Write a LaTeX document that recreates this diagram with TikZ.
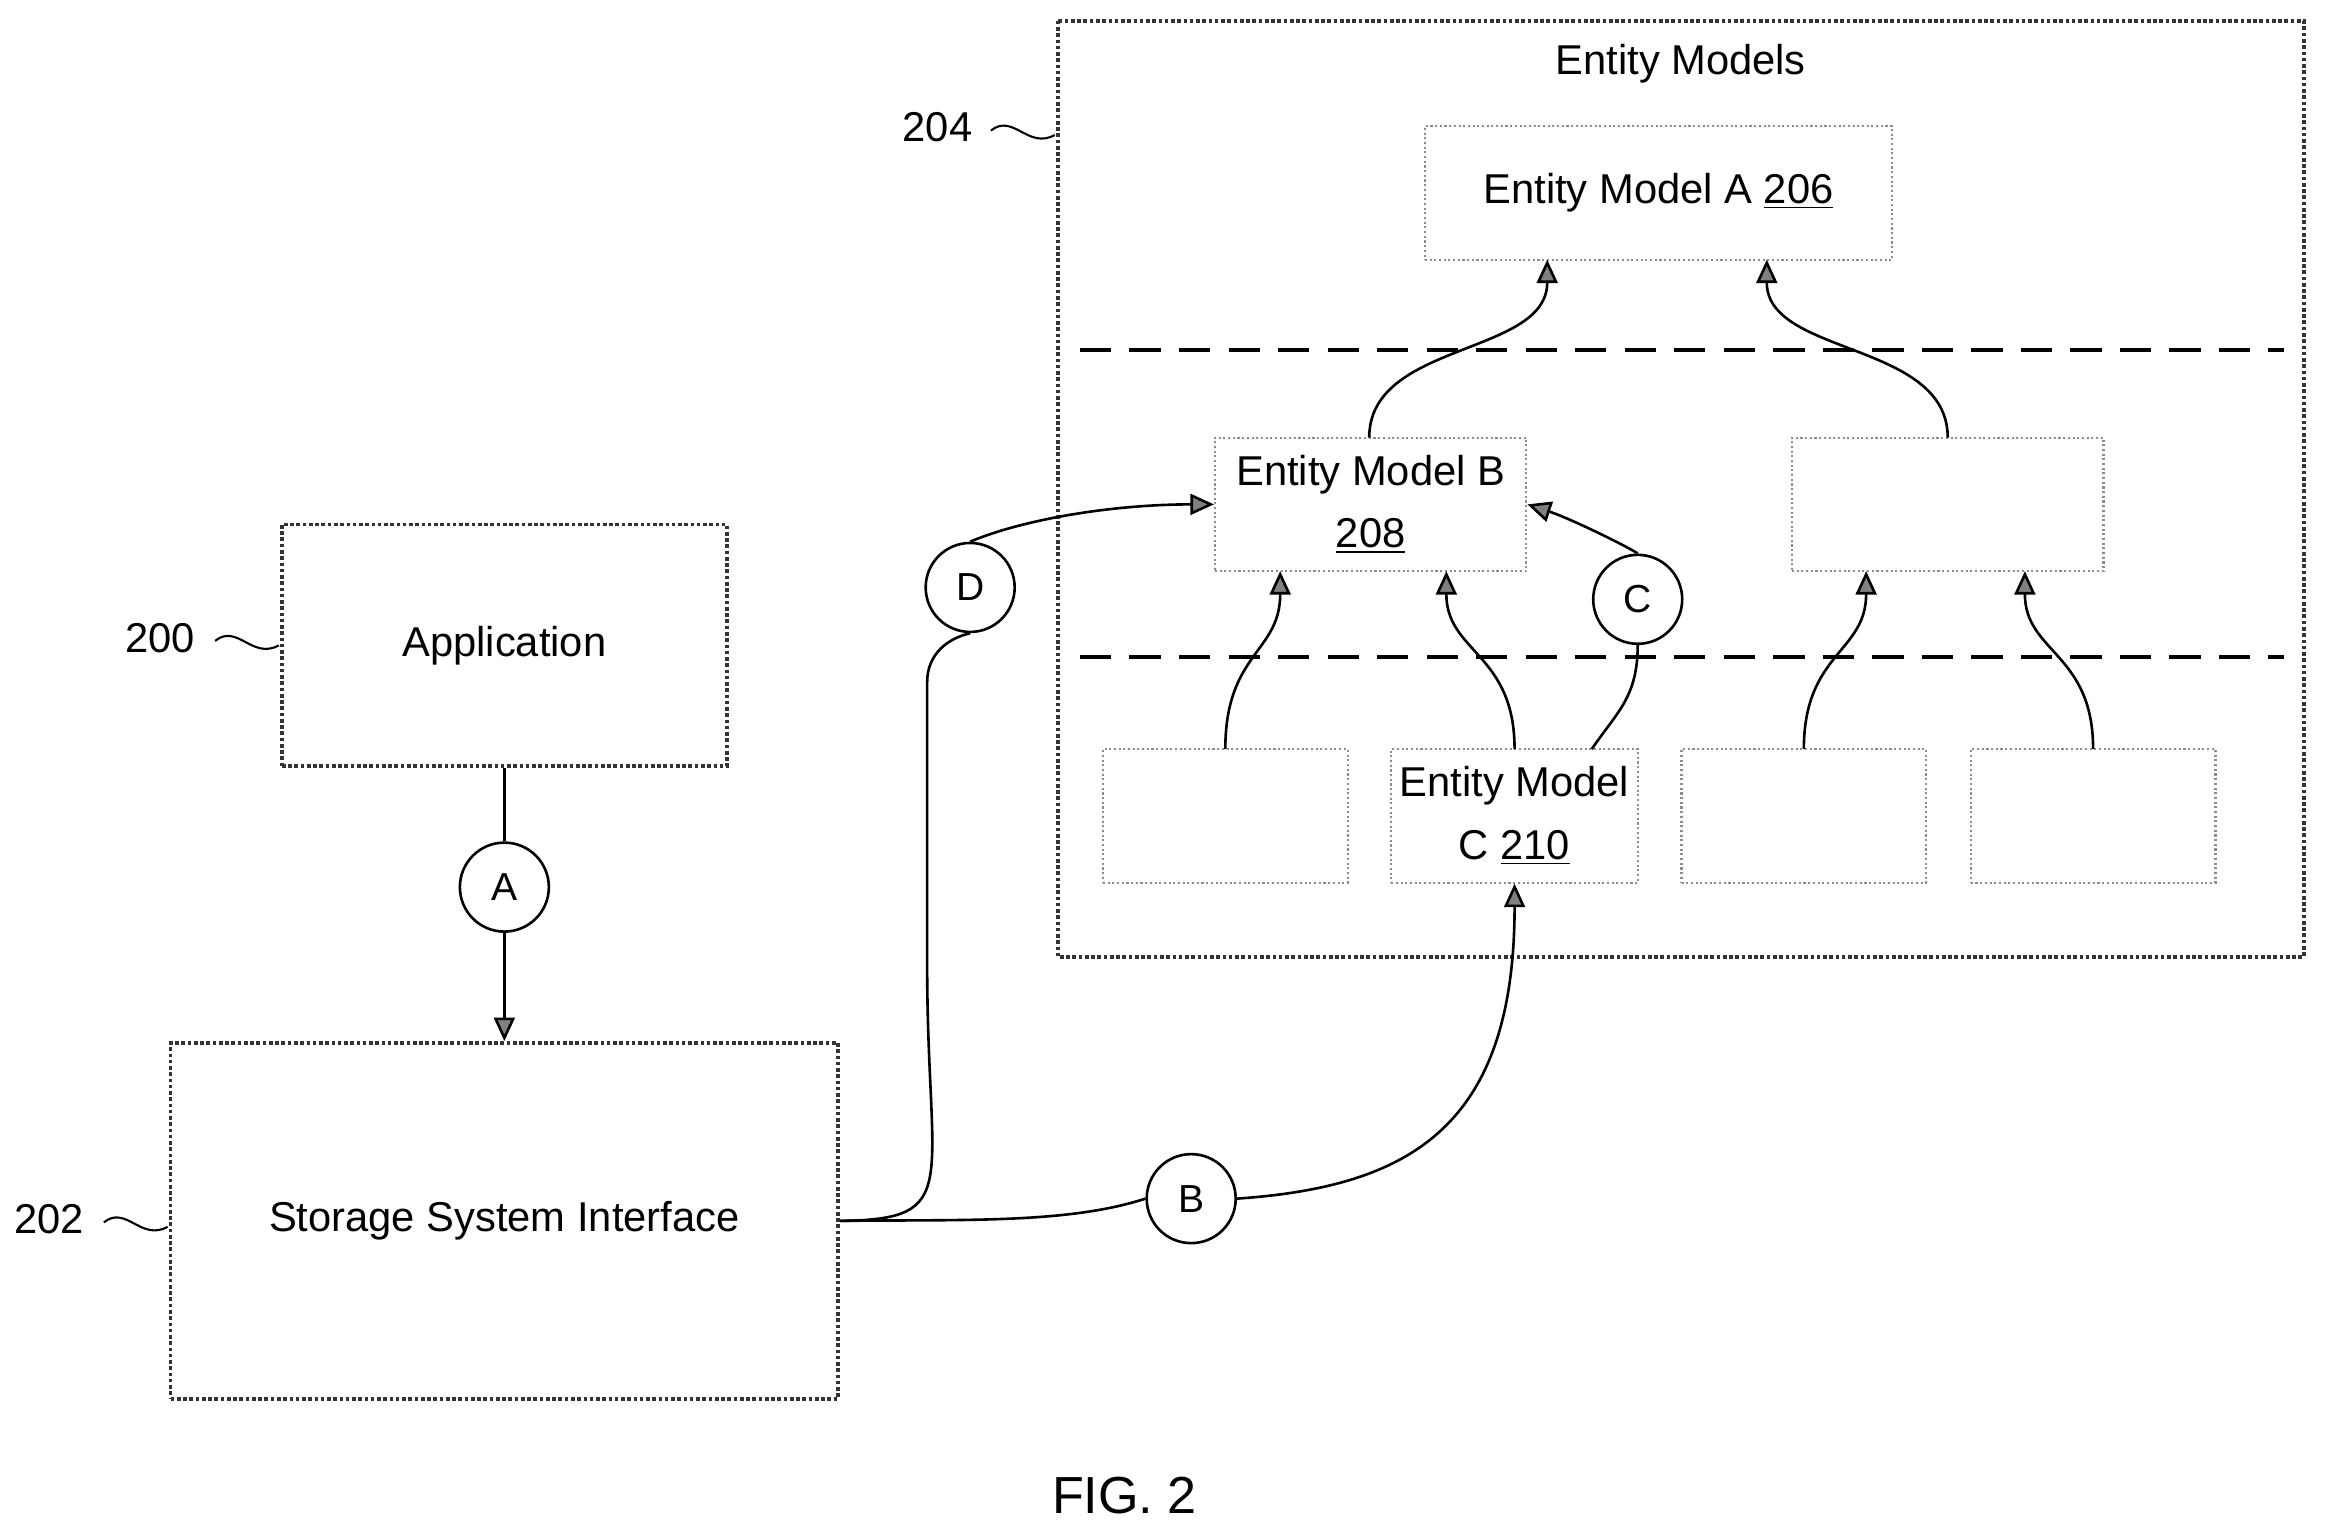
\documentclass[tikz,border=0pt]{standalone}
\usepackage{fontspec}
\setmainfont{Liberation Sans}
\usetikzlibrary{arrows.meta}
\begin{document}
\begin{tikzpicture}[x=0.02cm,y=-0.02cm,
 box/.style={draw=black!80,line width=1.4pt,densely dotted},
 ibox/.style={draw=black!45,line width=0.8pt,densely dotted},
 circ/.style={circle,draw=black,line width=1pt,minimum size=1.2cm,inner sep=0pt,font=\fontsize{15}{17}\selectfont,fill=white},
 txt/.style={font=\fontsize{16}{20}\selectfont,align=center},
 arr/.style={line width=1pt,-{Triangle[length=9pt,width=8pt,fill=black!50]}},
 ln/.style={line width=1pt},
 dl/.style={line width=1.3pt,dash pattern=on 12pt off 7pt}]
\useasboundingbox (0,0) rectangle (1568,1036);
% boxes
\node[box,minimum width=6cm,minimum height=3.26cm] (app) at (340,435) {};
\node[txt] at (app) {Application};
\node[box,minimum width=9cm,minimum height=4.8cm] (ssi) at (340,823) {};
\node[txt] at (ssi) {Storage System Interface};
\draw[box,line width=1.6pt] (713,14) rectangle (1553,645);
\node[txt] (em) at (1133,43) {Entity Models};
\node[ibox,minimum width=6.3cm,minimum height=1.8cm,txt] (a) at (1118,130) {Entity Model A \underline{206}};
\draw[dl] (728,236) -- (1540,236);
\draw[dl] (728,443) -- (1540,443);
\node[ibox,minimum width=4.2cm,minimum height=1.8cm,txt] (b) at (924,340) {Entity Model B\\[4pt]\underline{208}};
\node[ibox,minimum width=4.2cm,minimum height=1.8cm] (r) at (1313,340) {};
\node[ibox,minimum width=3.3cm,minimum height=1.8cm] (b1) at (826,550) {};
\node[ibox,minimum width=3.3cm,minimum height=1.8cm,txt] (c) at (1021,550) {Entity Model\\[4pt]C \underline{210}};
\node[ibox,minimum width=3.3cm,minimum height=1.8cm] (b3) at (1216,550) {};
\node[ibox,minimum width=3.3cm,minimum height=1.8cm] (b4) at (1411,550) {};
% circles
\node[circ] (ca) at (340,598) {A};
\node[circ] (cb) at (803,808) {B};
\node[circ] (cc) at (1104,404) {C};
\node[circ] (cd) at (654,396) {D};
% connectors
\draw[ln] (app.south) -- (ca.north);
\draw[arr] (ca.south) -- (ssi.north);
\draw[ln] (ssi.east) .. controls (650,822) and (720,825) .. (cb.west);
\draw[arr] (cb.east) .. controls (950,800) and (1021,760) .. (c.south);
\draw[ln] (ssi.east) .. controls (650,822) and (625,800) .. (625,650) -- (625,460) .. controls (625,440) and (640,430) .. (cd.south);
\draw[arr] (cd.north) .. controls (690,350) and (750,340) .. (b.west);
\draw[ln] (1073,505) .. controls (1090,480) and (1104,470) .. (cc.south);
\draw[arr] (cc.north) .. controls (1100,370) and (1060,350) .. (b.east);
\draw[arr] (826,505) .. controls (826,440) and (863,440) .. (863,385);
\draw[arr] (1021,505) .. controls (1021,440) and (975,440) .. (975,385);
\draw[arr] (1216,505) .. controls (1216,440) and (1258,440) .. (1258,385);
\draw[arr] (1411,505) .. controls (1411,440) and (1365,440) .. (1365,385);
\draw[arr] (923,295) .. controls (923,230) and (1043,240) .. (1043,175);
\draw[arr] (1313,295) .. controls (1313,230) and (1191,240) .. (1191,175);
% labels
\node[txt] (l200) at (108,430) {200};
\node[txt] (l202) at (33,822) {202};
\node[txt] (l204) at (632,86) {204};
\draw[ln,line width=0.8pt] (145,432) .. controls (160,420) and (170,445) .. (188,435);
\draw[ln,line width=0.8pt] (70,824) .. controls (85,812) and (95,837) .. (113,827);
\draw[ln,line width=0.8pt] (668,88) .. controls (683,76) and (693,101) .. (711,91);
\node[font=\fontsize{20}{24}\selectfont] (fig) at (758,1008) {FIG. 2};
\end{tikzpicture}
\end{document}
